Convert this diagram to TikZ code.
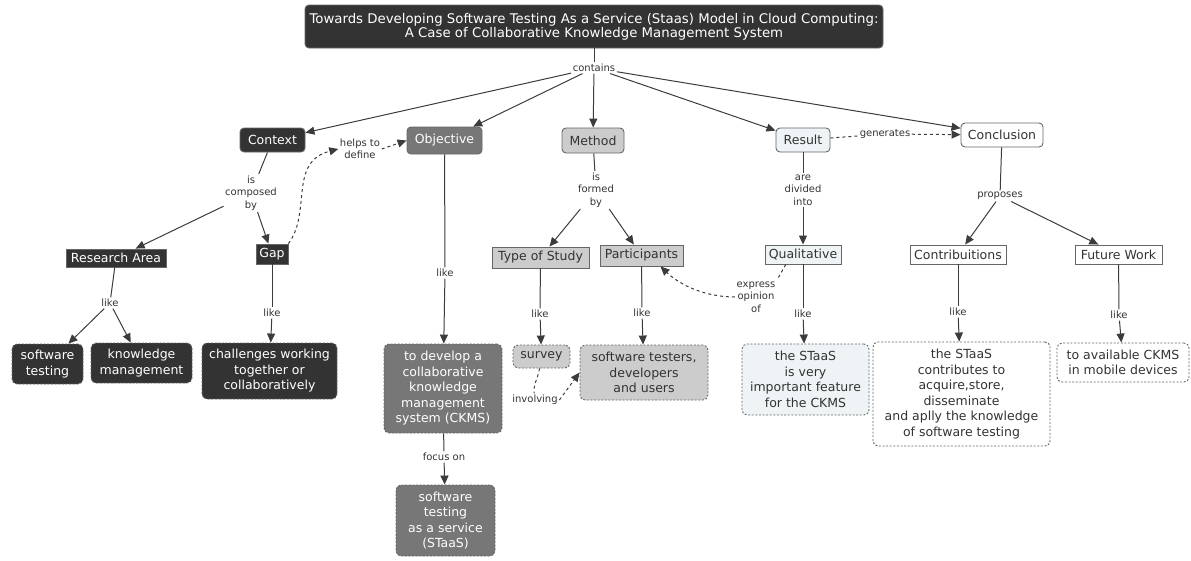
\documentclass[tikz,border=0pt]{standalone}
\usepackage{fontspec}
\setmainfont{DejaVu Sans}
\usetikzlibrary{arrows.meta,calc}
\definecolor{dark}{HTML}{333333}
\definecolor{objgray}{HTML}{777777}
\definecolor{lgray}{HTML}{CCCCCC}
\definecolor{lblue}{HTML}{EEF4F6}
\definecolor{linec}{HTML}{3C3C3C}
\definecolor{bord}{HTML}{666666}
\definecolor{txt}{HTML}{333333}
\begin{document}
\begin{tikzpicture}[x=1pt,y=-1pt,
  base/.style={inner sep=1pt, align=center, font=\fontsize{12.5}{15.5}\selectfont, line width=0.9pt, text=txt},
  topc/.style={base, rounded corners=4pt, draw=bord},
  sq/.style={base, draw=bord},
  leaf/.style={base, rounded corners=5pt, draw=bord, dash pattern=on 2pt off 1.6pt},
  darkf/.style={fill=dark, text=white},
  grayf/.style={fill=objgray, text=white},
  lgrayf/.style={fill=lgray},
  lbluef/.style={fill=lblue},
  whitef/.style={fill=white},
  sz/.style 2 args={minimum width=#1pt, minimum height=#2pt},
  lab/.style={inner sep=1.5pt, align=center, font=\fontsize{10}{12.5}\selectfont, text=txt},
  plain/.style={draw=linec, line width=1pt},
  conn/.style={plain, -{Triangle[length=9pt,width=8pt]}},
  dplain/.style={plain, dash pattern=on 3pt off 3pt},
  dconn/.style={conn, dash pattern=on 3pt off 3pt},
]
\useasboundingbox (0,0) rectangle (1191,560);

% title
\node[base, rounded corners=4pt, draw=bord, darkf, sz={578}{43}, font=\fontsize{13.3}{14}\selectfont] (title) at (594,26.5)
  {Towards Developing Software Testing As a Service (Staas) Model in Cloud Computing:\\A Case of Collaborative Knowledge Management System};

% top concepts
\node[topc, darkf, sz={65}{24}] (context) at (272.5,140) {Context};
\node[topc, grayf, sz={75}{27}] (objective) at (444.5,140.5) {Objective};
\node[topc, lgrayf, sz={62}{25}] (method) at (593,140.5) {Method};
\node[topc, lbluef, sz={54}{24}] (result) at (803,140) {Result};
\node[topc, whitef, sz={82}{24}] (conclusion) at (1002,135) {Conclusion};

% second level
\node[sq, darkf, sz={100}{18}] (research) at (116,258) {Research Area};
\node[sq, darkf, sz={32}{20}] (gap) at (272,254) {Gap};
\node[sq, lgrayf, sz={97}{21}] (typestudy) at (540.5,257.5) {Type of Study};
\node[sq, lgrayf, sz={83}{21}] (participants) at (641.5,255.5) {Participants};
\node[sq, lbluef, sz={76}{19}] (qualitative) at (803,254.5) {Qualitative};
\node[sq, whitef, sz={96}{19}] (contrib) at (958,254.5) {Contribuitions};
\node[sq, whitef, sz={87}{19}] (future) at (1118.5,254.5) {Future Work};

% leaves
\node[leaf, darkf, sz={71}{40}] (swtest) at (47.5,364) {software\\testing};
\node[leaf, darkf, sz={101}{40}] (km) at (141.5,363) {knowledge\\management};
\node[leaf, darkf, sz={135}{56}] (challenges) at (269.5,371) {challenges working\\together or\\collaboratively};
\node[leaf, grayf, sz={118}{89}] (develop) at (443,388.5) {to develop a\\collaborative\\knowledge\\management\\system (CKMS)};
\node[leaf, grayf, sz={99}{71}] (staas) at (445.5,520.5) {software\\testing\\as a service\\(STaaS)};
\node[leaf, lgrayf, sz={57}{23}] (survey) at (541.5,356.5) {survey};
\node[leaf, lgrayf, sz={128}{55}] (testers) at (644,372.5) {software testers,\\developers\\and users};
\node[leaf, lbluef, sz={127}{71}] (important) at (805.5,379.5) {the STaaS\\is very\\important feature\\for the CKMS};
\node[leaf, whitef, sz={177}{104}] (contribleaf) at (961.5,394) {the STaaS\\contributes to\\acquire,store,\\disseminate\\and aplly the knowledge\\of software testing};
\node[leaf, whitef, sz={132}{39}] (futureleaf) at (1123,362.5) {to available CKMS\\in mobile devices};

% linking phrases
\node[lab] (contains) at (594,68) {contains};
\node[lab] (composed) at (251,193) {is\\composed\\by};
\node[lab] (helps) at (360,149) {helps to\\define};
\node[lab] (likeRA) at (110,303) {like};
\node[lab] (likeGap) at (272,313) {like};
\node[lab] (likeObj) at (445,273) {like};
\node[lab] (focus) at (444,457) {focus on};
\node[lab] (formed) at (596,190) {is\\formed\\by};
\node[lab] (likeTS) at (540,314) {like};
\node[lab] (likePart) at (642,313) {like};
\node[lab] (involving) at (535,400) {involving};
\node[lab] (divided) at (803,190) {are\\divided\\into};
\node[lab] (express) at (756,297) {express\\opinion\\of};
\node[lab] (likeQual) at (803,314) {like};
\node[lab] (generates) at (885,134) {generates};
\node[lab] (proposes) at (1000,196) {proposes};
\node[lab] (likeCon) at (958,312) {like};
\node[lab] (likeFut) at (1119,315) {like};

% connectors
\draw[plain] (title) -- (contains);
\draw[conn] (contains) -- (context);
\draw[conn] (contains) -- (objective);
\draw[conn] (contains) -- (method);
\draw[conn] (contains) -- (result);
\draw[conn] (contains) -- (conclusion);

\draw[plain] (context) -- (composed);
\draw[conn] (composed) -- (research);
\draw[conn] (composed) -- (gap);
\draw[dconn] (gap.north east) .. controls (312,212) and (288,162) .. (helps.west);
\draw[dconn] (helps.east) -- (objective.west);

\draw[plain] (research) -- (likeRA);
\draw[conn] (likeRA) -- (swtest);
\draw[conn] (likeRA) -- (km);
\draw[plain] (gap) -- (likeGap);
\draw[conn] (likeGap) -- (challenges);

\draw[plain] (objective) -- (likeObj);
\draw[conn] (likeObj) -- (develop);
\draw[plain] (develop) -- (focus);
\draw[conn] (focus) -- (staas);

\draw[plain] (method) -- (formed);
\draw[conn] (formed) -- (typestudy);
\draw[conn] (formed) -- (participants);
\draw[plain] (typestudy) -- (likeTS);
\draw[conn] (likeTS) -- (survey);
\draw[plain] (participants) -- (likePart);
\draw[conn] (likePart) -- (testers);
\draw[dplain] (survey) .. controls (538,378) and (533,385) .. (involving);
\draw[dconn] (involving.east) -- (testers.west);

\draw[plain] (result) -- (divided);
\draw[conn] (divided) -- (qualitative);
\draw[dplain] (qualitative.-150) -- (express.north east);
\draw[dconn] (express.west) .. controls (705,297) and (680,285) .. (participants.-30);
\draw[plain] (qualitative) -- (likeQual);
\draw[conn] (likeQual) -- (important);

\draw[dplain] (result) -- (generates);
\draw[dconn] (generates) -- (conclusion);
\draw[plain] (conclusion) -- (proposes);
\draw[conn] (proposes) -- (contrib);
\draw[conn] (proposes) -- (future);
\draw[plain] (contrib) -- (likeCon);
\draw[conn] (likeCon) -- (contribleaf);
\draw[plain] (future) -- (likeFut);
\draw[conn] (likeFut) -- (futureleaf);
\end{tikzpicture}
\end{document}
